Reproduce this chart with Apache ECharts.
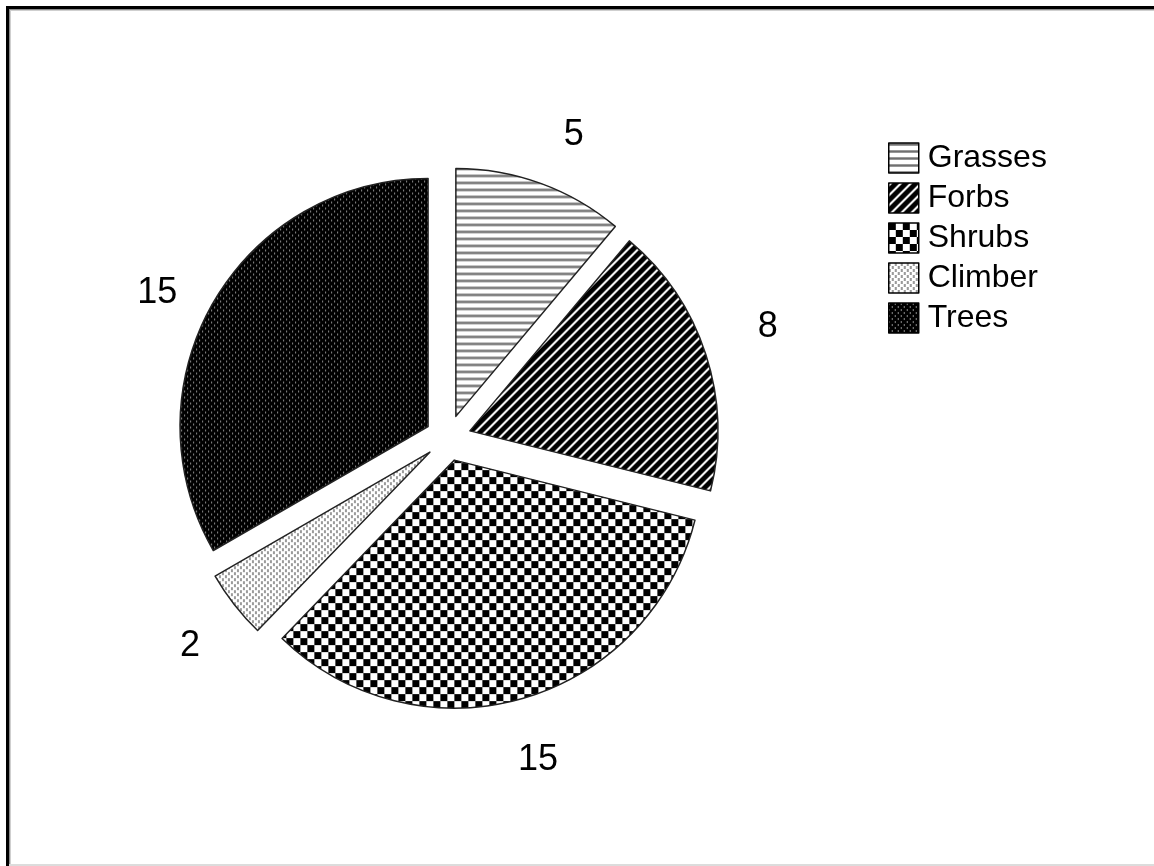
<!DOCTYPE html>
<html>
<head>
<meta charset="utf-8">
<script src="https://cdn.jsdelivr.net/npm/echarts@6/dist/echarts.min.js"></script>
<style>
html,body{margin:0;padding:0;background:#fff;}
#chart{width:1154px;height:866px;}
</style>
</head>
<body>
<div id="chart"></div>
<script>
var categories = ['Grasses', 'Forbs', 'Shrubs', 'Climber', 'Trees'];
var values = [5, 8, 15, 2, 15];

function makeTile(w, h, draw) {
  var c = document.createElement('canvas');
  c.width = w; c.height = h;
  var ctx = c.getContext('2d');
  draw(ctx, w, h);
  return c;
}
function px(ctx, x, y, col) { ctx.fillStyle = col; ctx.fillRect(x, y, 1, 1); }

var patterns = [
  // Grasses: horizontal gray stripes
  makeTile(7, 7, function (ctx, w, h) {
    ctx.fillStyle = '#fff'; ctx.fillRect(0, 0, w, h);
    var rows = ['#9a9a9a', '#6e6e6e', '#9a9a9a', '#fff', '#fff', '#fff', '#fff'];
    for (var y = 0; y < h; y++) { ctx.fillStyle = rows[y]; ctx.fillRect(0, y, w, 1); }
  }),
  // Forbs: black with white "/" diagonals
  makeTile(10, 10, function (ctx, w, h) {
    for (var x = 0; x < w; x++) for (var y = 0; y < h; y++) {
      var v = (x + y) % 10;
      var col = '#000';
      if (v === 1 || v === 2) col = '#fff';
      else if (v === 0 || v === 3) col = '#7a7a7a';
      px(ctx, x, y, col);
    }
  }),
  // Shrubs: checkerboard
  makeTile(14, 14, function (ctx, w, h) {
    ctx.fillStyle = '#fff'; ctx.fillRect(0, 0, w, h);
    ctx.fillStyle = '#000'; ctx.fillRect(0, 0, 7, 7); ctx.fillRect(7, 7, 7, 7);
  }),
  // Climber: white with gray dots
  makeTile(6, 6, function (ctx, w, h) {
    ctx.fillStyle = '#fff'; ctx.fillRect(0, 0, w, h);
    ctx.fillStyle = '#9a9a9a';
    ctx.fillRect(0, 0, 2, 3); ctx.fillRect(3, 3, 2, 3);
  }),
  // Trees: black with gray dots
  makeTile(6, 6, function (ctx, w, h) {
    ctx.fillStyle = '#000'; ctx.fillRect(0, 0, w, h);
    ctx.fillStyle = '#8c8c8c';
    ctx.fillRect(0, 0, 1, 2); ctx.fillRect(3, 3, 1, 2);
  })
];

// per-label fine placement nudges: [horizontal padding, vertical padding]
var labelPadX = [[0, 26], [0, 12], [2, 0], [0, 4], [10, 0]];
var labelPadY = [[14, 0], [0, 18], [10, 0], [10, 0], [40, 0]];

var FONT = '"Liberation Sans", Arial, sans-serif';
var CENTER = [448, 438];
var OFFSET = 23;

var pieData = categories.map(function (n, i) {
  var st = { color: { image: patterns[i], repeat: 'repeat' }, borderColor: '#222', borderWidth: 1.5 };
  return { name: n, value: values[i], selected: true, itemStyle: st, select: { itemStyle: st } };
});
var labelData = categories.map(function (n, i) {
  return {
    name: n, value: values[i], selected: true,
    label: {
      padding: [0, labelPadX[i][0], 0, labelPadX[i][1]],
      rich: { v: { fontSize: 36, fontFamily: FONT, color: '#000', padding: [labelPadY[i][0], 0, labelPadY[i][1], 0] } }
    }
  };
});

var chart = echarts.init(document.getElementById('chart'), null, { renderer: 'canvas' });
chart.setOption({
  animation: false,
  backgroundColor: '#fff',
  legend: {
    orient: 'vertical',
    left: 883,
    top: 137,
    itemWidth: 30,
    itemHeight: 30,
    itemGap: 8,
    icon: 'rect',
    selectedMode: false,
    data: categories,
    itemStyle: { borderColor: '#000', borderWidth: 1.5 },
    textStyle: { fontSize: 32, fontFamily: FONT, color: '#000', lineHeight: 30, padding: [0, 0, 0, 4] }
  },
  graphic: [
    { type: 'rect', shape: { x: 6, y: 6, width: 1148, height: 3 }, style: { fill: '#000' }, silent: true },
    { type: 'rect', shape: { x: 9, y: 9, width: 1145, height: 1 }, style: { fill: '#8a8a8a' }, silent: true },
    { type: 'rect', shape: { x: 9, y: 10, width: 1145, height: 1 }, style: { fill: '#cfcfcf' }, silent: true },
    { type: 'rect', shape: { x: 6, y: 6, width: 3, height: 860 }, style: { fill: '#000' }, silent: true },
    { type: 'rect', shape: { x: 9, y: 9, width: 1, height: 857 }, style: { fill: '#8a8a8a' }, silent: true },
    { type: 'rect', shape: { x: 10, y: 10, width: 1, height: 856 }, style: { fill: '#cfcfcf' }, silent: true },
    { type: 'rect', shape: { x: 9, y: 864, width: 1145, height: 2 }, style: { fill: '#dcdcdc' }, silent: true }
  ],
  series: [
    {
      type: 'pie',
      center: CENTER,
      radius: 248,
      startAngle: 90,
      clockwise: true,
      selectedMode: 'multiple',
      selectedOffset: OFFSET,
      silent: true,
      label: { show: false },
      labelLine: { show: false },
      emphasis: { disabled: true },
      data: pieData
    },
    {
      type: 'pie',
      center: CENTER,
      radius: [296, 312],
      startAngle: 90,
      clockwise: true,
      selectedMode: 'multiple',
      selectedOffset: OFFSET,
      silent: true,
      z: 5,
      itemStyle: { color: 'rgba(0,0,0,0)', borderWidth: 0 },
      select: { itemStyle: { color: 'rgba(0,0,0,0)', borderWidth: 0 } },
      emphasis: { disabled: true },
      label: {
        show: true,
        position: 'inside',
        formatter: '{v|{c}}',
        fontSize: 36,
        fontFamily: FONT,
        color: '#000'
      },
      labelLine: { show: false },
      data: labelData
    }
  ]
});
</script>
</body>
</html>
